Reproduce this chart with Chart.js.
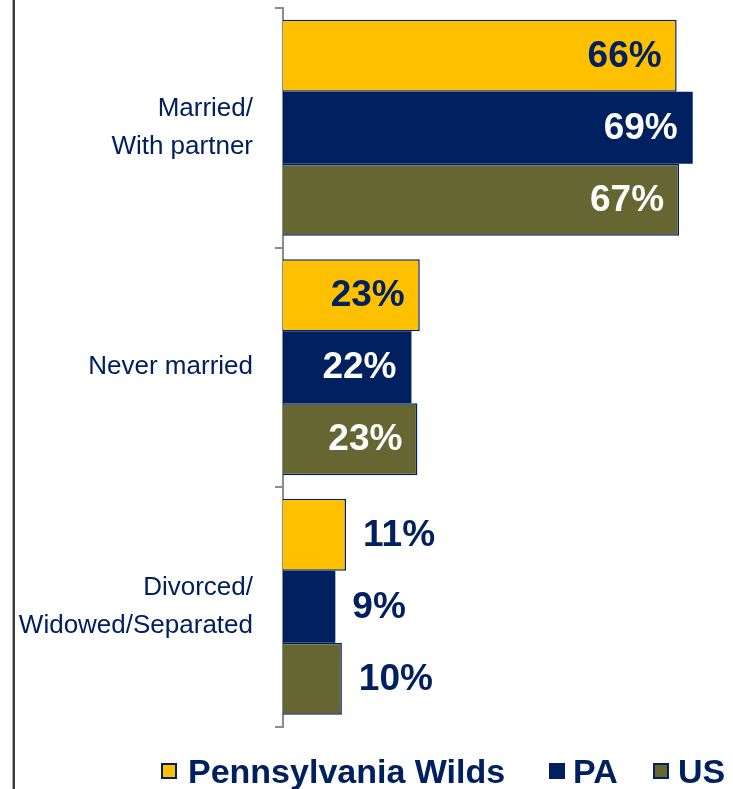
<!DOCTYPE html>
<html>
<head>
<meta charset="utf-8">
<script src="https://cdn.jsdelivr.net/npm/chart.js@4"></script>
<style>
  html, body { margin: 0; padding: 0; background: #fff; }
  #wrap { position: relative; width: 733px; height: 789px; overflow: hidden; }
  #wrap canvas { position: absolute; left: 0; top: 0; }
  .edge1 { position: absolute; left: 12px; top: 0; width: 1px; height: 789px; background: #a6a6a6; }
  .edge2 { position: absolute; left: 13px; top: 0; width: 2px; height: 789px; background: #3a3a3a; }
  .lg-box { position: absolute; top: 763px; width: 12px; height: 12px; border: 2px solid #002060; }
  .lg-text { position: absolute; top: 754px; font: bold 34px "Liberation Sans", Arial, sans-serif; line-height: 34px; color: #002060; white-space: nowrap; }
</style>
</head>
<body>
<div id="wrap">
  <canvas id="c" width="733" height="789"></canvas>
  <div class="edge1"></div>
  <div class="edge2"></div>
  <div id="legend"></div>
</div>
<script>
// ---- data ----
const categories = [["Married/", "With partner"], "Never married", ["Divorced/", "Widowed/Separated"]];
const seriesNames = ["Pennsylvania Wilds", "PA", "US"];
const pennsylvaniaWilds = [66.2, 23.0, 10.6];
const paValues = [68.9, 21.6, 8.8];
const usValues = [66.6, 22.6, 9.9];
const axisMin = 0;
const axisMax = 75;

// ---- styles ----
const NAVY = "#002060";
const colors = ["#FFC000", NAVY, "#666633"];
const seriesData = [pennsylvaniaWilds, paValues, usValues];

const valueLabels = {
  id: "valueLabels",
  afterDatasetsDraw(chart) {
    const ctx = chart.ctx;
    ctx.save();
    ctx.font = 'bold 37px "Liberation Sans", Arial, sans-serif';
    ctx.textBaseline = "middle";
    chart.data.datasets.forEach((ds, di) => {
      const meta = chart.getDatasetMeta(di);
      meta.data.forEach((bar, i) => {
        const v = ds.data[i];
        const txt = Math.round(v) + "%";
        if (v > 15) {
          ctx.textAlign = "right";
          ctx.fillStyle = di === 0 ? NAVY : "#ffffff";
          ctx.fillText(txt, bar.x - 15, bar.y + 1);
        } else {
          ctx.textAlign = "left";
          ctx.fillStyle = NAVY;
          ctx.fillText(txt, bar.x + 17, bar.y + 1);
        }
      });
    });
    ctx.restore();
  }
};

new Chart(document.getElementById("c"), {
  type: "bar",
  data: {
    labels: categories,
    datasets: seriesNames.map((name, k) => ({
      label: name,
      data: seriesData[k],
      backgroundColor: colors[k],
      borderColor: NAVY,
      borderWidth: k === 1 ? 0 : 1.5,
      categoryPercentage: 0.902,
      barPercentage: 1.0
    }))
  },
  options: {
    indexAxis: "y",
    responsive: false,
    animation: false,
    layout: { padding: { top: 8, bottom: 62.5, right: 4, left: 0 } },
    plugins: { legend: { display: false }, tooltip: { enabled: false } },
    scales: {
      x: { display: false, min: axisMin, max: axisMax },
      y: {
        afterFit(scale) { scale.width = 283; scale.paddingTop = 0; scale.paddingBottom = 0; },
        border: { display: true, color: "#8c8c8c", width: 2 },
        grid: { drawOnChartArea: false, drawTicks: true, tickLength: 8, color: "#8c8c8c", lineWidth: 2, offset: true },
        ticks: {
          color: NAVY,
          padding: 22,
          font: { family: '"Liberation Sans", Arial, sans-serif', size: 26, lineHeight: 1.45 }
        }
      }
    }
  },
  plugins: [valueLabels]
});

// ---- legend (HTML) ----
const legendPos = [[161, 188], [549, 573], [653, 678]];
const lg = document.getElementById("legend");
seriesNames.forEach((name, k) => {
  const b = document.createElement("div");
  b.className = "lg-box";
  b.style.left = legendPos[k][0] + "px";
  b.style.background = colors[k];
  lg.appendChild(b);
  const t = document.createElement("div");
  t.className = "lg-text";
  t.style.left = legendPos[k][1] + "px";
  t.textContent = name;
  lg.appendChild(t);
});
</script>
</body>
</html>
